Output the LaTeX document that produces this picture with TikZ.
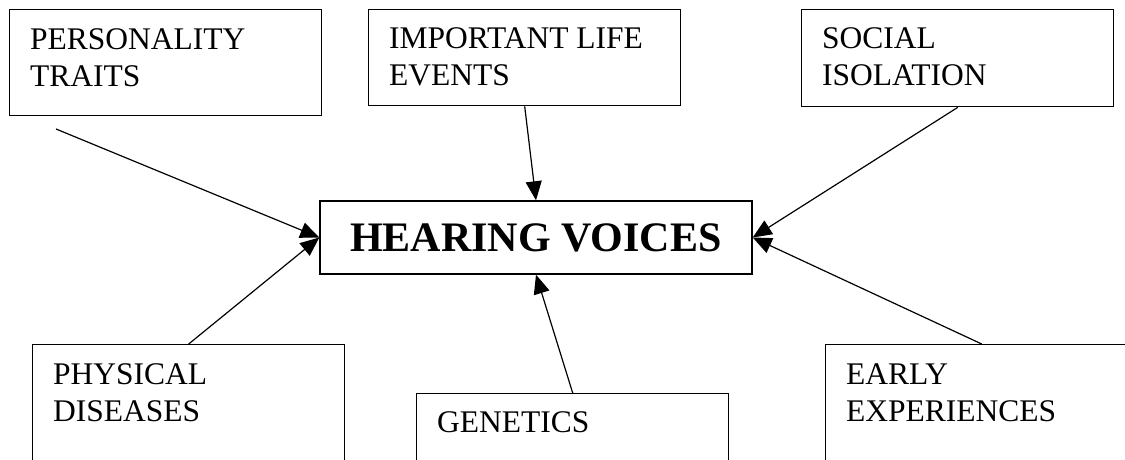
\documentclass[tikz,border=0pt]{standalone}
\usepackage{fontspec}
\setmainfont{Liberation Serif}
\usetikzlibrary{arrows.meta}

\begin{document}
\begin{tikzpicture}[x=1pt,y=-1pt,>={Triangle[length=19pt,width=16pt]},
      factor/.style={draw,line width=1.4pt,anchor=north west,minimum width=312pt,inner sep=0pt},
      caption/.style={anchor=base west,align=left,inner sep=0pt,font=\fontsize{31.5}{36.5}\selectfont},
      link/.style={->,line width=1.2pt}]
      \useasboundingbox (0,0) rectangle (1125,460);
      \clip (0,0) rectangle (1125,460);

      % the factors round the centre
      \node[factor,minimum height=106pt] (pers)   at (9,9)    {};
      \node[factor,minimum height=96pt]  (life)   at (368,9)  {};
      \node[factor,minimum height=97pt]  (social) at (801,9)  {};
      \node[factor,minimum height=140pt] (phys)   at (32,344) {};
      \node[factor,minimum height=140pt] (genes)  at (416,393) {};
      \node[factor,minimum height=140pt] (early)  at (825,344) {};

      % base of a caption is its last line
      \node[caption] (pers-text)   at ([shift={(21,77)}]pers.north west)   {PERSONALITY\\TRAITS};
      \node[caption] (life-text)   at ([shift={(21,76)}]life.north west)   {IMPORTANT LIFE\\EVENTS};
      \node[caption] (social-text) at ([shift={(21,76)}]social.north west) {SOCIAL\\ISOLATION};
      \node[caption] (phys-text)   at ([shift={(21,77)}]phys.north west)   {PHYSICAL\\DISEASES};
      \node[caption] (genes-text)  at ([shift={(21,39)}]genes.north west)  {GENETICS};
      \node[caption] (early-text)  at ([shift={(21,77)}]early.north west)  {EARLY\\EXPERIENCES};

      % the centre
      \node[draw,line width=1.4pt,minimum width=432pt,minimum height=73pt,
            font=\bfseries\fontsize{42}{48}\selectfont] (hear) at (536,237.5) {HEARING VOICES};

      \coordinate (pers-tail) at (56,129);

      \draw[link] (pers-tail)  -- (hear.west);
      \draw[link] (life.south) -- (hear.north);
      \draw[link] (social.south) -- (hear.east);
      \draw[link] (phys.north) -- (hear.west);
      \draw[link] (genes.north) -- (hear.south);
      \draw[link] (early.north) -- (hear.east);
    \end{tikzpicture}
\end{document}
